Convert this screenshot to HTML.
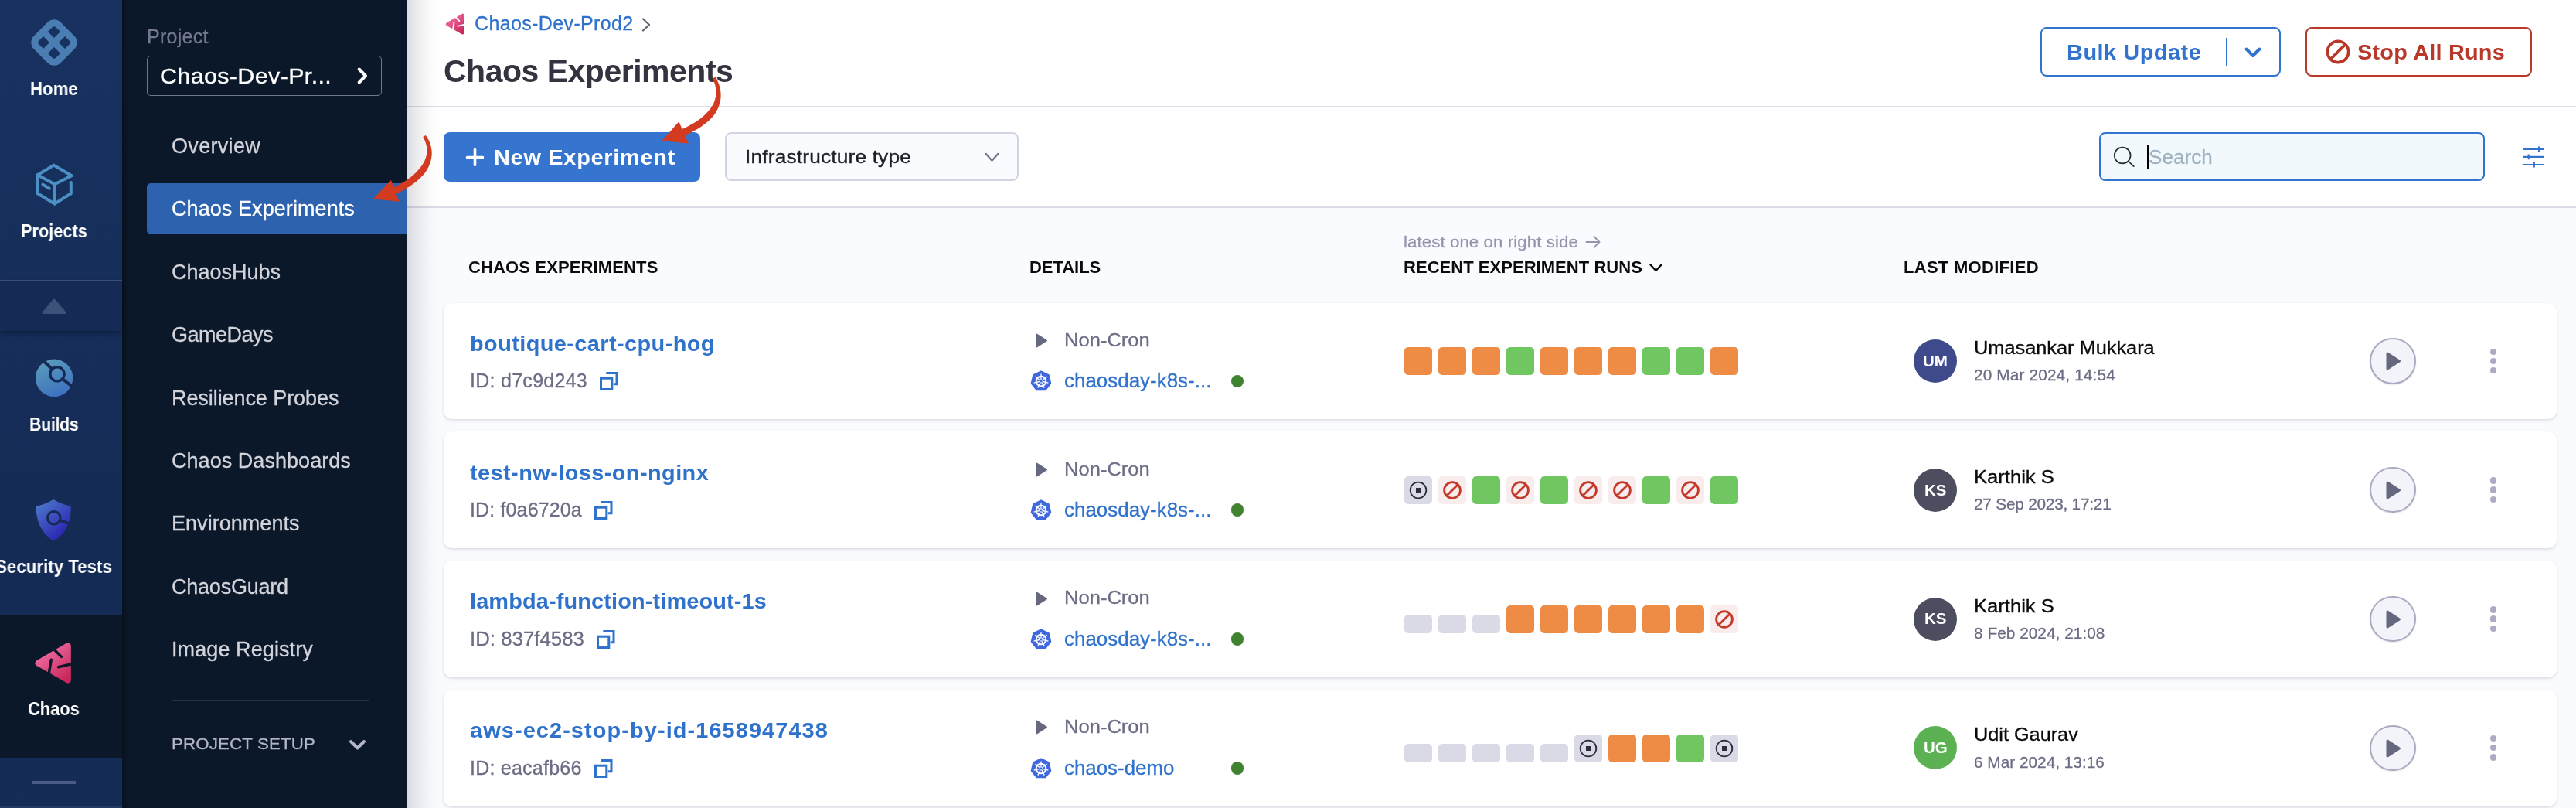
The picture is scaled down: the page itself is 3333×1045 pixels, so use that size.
<!DOCTYPE html>
<html><head><meta charset="utf-8"><title>Chaos Experiments</title>
<style>
html,body{margin:0;padding:0;}
body{width:3333px;height:1045px;overflow:hidden;position:relative;background:#fafbfe;
font-family:"Liberation Sans",sans-serif;}
.t{position:absolute;white-space:nowrap;margin:0;padding:0;will-change:transform;}
.a{position:absolute;}
svg{position:absolute;overflow:visible;}
.card{position:absolute;left:574px;width:2734px;height:150px;background:#fff;border-radius:11px;
box-shadow:0 1px 2px rgba(40,41,61,.08),0 2px 5px rgba(96,97,112,.13);}
.sq{position:absolute;width:36px;height:36px;border-radius:5px;}
</style></head><body>
<div class="a" style="left:526px;top:0;width:2807px;height:268px;background:#fff"></div>
<div class="a" style="left:526px;top:137px;width:2807px;height:2px;background:#dadbe6"></div>
<div class="a" style="left:526px;top:267px;width:2807px;height:2px;background:#dadbe6"></div>
<div class="card" style="top:392px;height:150px"></div>
<div class="t" style="left:607.70px;top:428.70px;font-size:27px;line-height:32px;color:#2f72cc;font-weight:700;letter-spacing:0.392px;transform:scaleX(1.0700);transform-origin:0 50%;">boutique-cart-cpu-hog</div>
<div class="t" style="left:607.70px;top:477.20px;font-size:25px;line-height:30px;color:#6b6d85;letter-spacing:0.277px;-webkit-text-stroke:0.3px #6b6d85;">ID: d7c9d243</div>
<svg style="left:776.2px;top:481.1px" width="24" height="24" viewBox="0 0 24 24" fill="none" stroke="#2f72cc" stroke-width="3"><path d="M8.3 1.5H22v14.3h-4.3"/><rect x="1.5" y="8.2" width="14.3" height="14.3"/></svg>
<svg style="left:1339.5px;top:430.8px" width="16" height="19" viewBox="0 0 16 19"><path d="M1.5 1.5 L14 9.5 L1.5 17.5 Z" fill="#66687f" stroke="#66687f" stroke-width="2" stroke-linejoin="round"/></svg>
<div class="t" style="left:1377.00px;top:424.70px;font-size:24.5px;line-height:29px;color:#6b6d85;letter-spacing:0.000px;transform:scaleX(1.0432);transform-origin:0 50%;-webkit-text-stroke:0.3px #6b6d85;">Non-Cron</div>
<svg style="left:1331.7px;top:478.4px" width="30" height="30" viewBox="-15 -15 30 30"><polygon points="0.00,-12.60 9.85,-7.86 12.28,2.80 5.47,11.35 -5.47,11.35 -12.28,2.80 -9.85,-7.86" fill="#4068de" stroke="#4068de" stroke-width="2" stroke-linejoin="round"/><g stroke="#fff" stroke-width="1.3" fill="none"><circle r="6.3" stroke-width="2"/><line x1="0" y1="0" x2="0.00" y2="-9.60"/><line x1="0" y1="0" x2="7.51" y2="-5.99"/><line x1="0" y1="0" x2="9.36" y2="2.14"/><line x1="0" y1="0" x2="4.17" y2="8.65"/><line x1="0" y1="0" x2="-4.17" y2="8.65"/><line x1="0" y1="0" x2="-9.36" y2="2.14"/><line x1="0" y1="0" x2="-7.51" y2="-5.99"/></g><circle r="1.6" fill="#4068de"/></svg>
<div class="t" style="left:1377.00px;top:477.20px;font-size:25px;line-height:30px;color:#2f72cc;letter-spacing:0.000px;transform:scaleX(1.0378);transform-origin:0 50%;-webkit-text-stroke:0.3px #2f72cc;">chaosday-k8s-...</div>
<div class="a" style="left:1592.7px;top:484.5px;width:16.7px;height:16.7px;border-radius:50%;background:#3f8230"></div>
<div class="sq" style="left:1817.1px;top:449.2px;background:#ee8b45"></div>
<div class="sq" style="left:1861.1px;top:449.2px;background:#ee8b45"></div>
<div class="sq" style="left:1905.1px;top:449.2px;background:#ee8b45"></div>
<div class="sq" style="left:1949.1px;top:449.2px;background:#70c762"></div>
<div class="sq" style="left:1993.1px;top:449.2px;background:#ee8b45"></div>
<div class="sq" style="left:2037.1px;top:449.2px;background:#ee8b45"></div>
<div class="sq" style="left:2081.1px;top:449.2px;background:#ee8b45"></div>
<div class="sq" style="left:2125.1px;top:449.2px;background:#70c762"></div>
<div class="sq" style="left:2169.1px;top:449.2px;background:#70c762"></div>
<div class="sq" style="left:2213.1px;top:449.2px;background:#ee8b45"></div>
<div class="a" style="left:2476px;top:438.8px;width:56px;height:56px;border-radius:50%;background:#3f4a8c"></div>
<div class="t" style="left:2488.06px;top:453.80px;font-size:20.5px;line-height:25px;color:#fff;font-weight:700;letter-spacing:0.000px;">UM</div>
<div class="t" style="left:2553.50px;top:435.00px;font-size:24.5px;line-height:29px;color:#0b0b0d;letter-spacing:0.000px;-webkit-text-stroke:0.35px #0b0b0d;transform:scaleX(1.0339);transform-origin:0 50%;">Umasankar Mukkara</div>
<div class="t" style="left:2553.50px;top:472.40px;font-size:20.8px;line-height:25px;color:#6b6d85;letter-spacing:0.139px;-webkit-text-stroke:0.3px #6b6d85;">20 Mar 2024, 14:54</div>
<div class="a" style="left:3066.4px;top:437.0px;width:55.5px;height:55.5px;border-radius:50%;border:2px solid #a9aac2;background:#f3f3fa;box-shadow:0 1px 2px rgba(40,41,61,.12)"></div>
<svg style="left:3086.6px;top:455.2px" width="20" height="24" viewBox="0 0 20 24"><path d="M2 2 L17.5 12 L2 22 Z" fill="#66687f" stroke="#66687f" stroke-width="3" stroke-linejoin="round"/></svg>
<div class="a" style="left:3221.6px;top:450.5px;width:8.4px;height:8.4px;border-radius:50%;background:#abacc4"></div>
<div class="a" style="left:3221.6px;top:462.6px;width:8.4px;height:8.4px;border-radius:50%;background:#abacc4"></div>
<div class="a" style="left:3221.6px;top:474.8px;width:8.4px;height:8.4px;border-radius:50%;background:#abacc4"></div>
<div class="card" style="top:558px;height:151px"></div>
<div class="t" style="left:607.70px;top:595.53px;font-size:27px;line-height:32px;color:#2f72cc;font-weight:700;letter-spacing:0.403px;transform:scaleX(1.0700);transform-origin:0 50%;">test-nw-loss-on-nginx</div>
<div class="t" style="left:607.70px;top:644.03px;font-size:25px;line-height:30px;color:#6b6d85;letter-spacing:0.141px;-webkit-text-stroke:0.3px #6b6d85;">ID: f0a6720a</div>
<svg style="left:769.2px;top:647.9px" width="24" height="24" viewBox="0 0 24 24" fill="none" stroke="#2f72cc" stroke-width="3"><path d="M8.3 1.5H22v14.3h-4.3"/><rect x="1.5" y="8.2" width="14.3" height="14.3"/></svg>
<svg style="left:1339.5px;top:597.6px" width="16" height="19" viewBox="0 0 16 19"><path d="M1.5 1.5 L14 9.5 L1.5 17.5 Z" fill="#66687f" stroke="#66687f" stroke-width="2" stroke-linejoin="round"/></svg>
<div class="t" style="left:1377.00px;top:591.53px;font-size:24.5px;line-height:29px;color:#6b6d85;letter-spacing:0.000px;transform:scaleX(1.0432);transform-origin:0 50%;-webkit-text-stroke:0.3px #6b6d85;">Non-Cron</div>
<svg style="left:1331.7px;top:645.2px" width="30" height="30" viewBox="-15 -15 30 30"><polygon points="0.00,-12.60 9.85,-7.86 12.28,2.80 5.47,11.35 -5.47,11.35 -12.28,2.80 -9.85,-7.86" fill="#4068de" stroke="#4068de" stroke-width="2" stroke-linejoin="round"/><g stroke="#fff" stroke-width="1.3" fill="none"><circle r="6.3" stroke-width="2"/><line x1="0" y1="0" x2="0.00" y2="-9.60"/><line x1="0" y1="0" x2="7.51" y2="-5.99"/><line x1="0" y1="0" x2="9.36" y2="2.14"/><line x1="0" y1="0" x2="4.17" y2="8.65"/><line x1="0" y1="0" x2="-4.17" y2="8.65"/><line x1="0" y1="0" x2="-9.36" y2="2.14"/><line x1="0" y1="0" x2="-7.51" y2="-5.99"/></g><circle r="1.6" fill="#4068de"/></svg>
<div class="t" style="left:1377.00px;top:644.03px;font-size:25px;line-height:30px;color:#2f72cc;letter-spacing:0.000px;transform:scaleX(1.0378);transform-origin:0 50%;-webkit-text-stroke:0.3px #2f72cc;">chaosday-k8s-...</div>
<div class="a" style="left:1592.7px;top:651.3px;width:16.7px;height:16.7px;border-radius:50%;background:#3f8230"></div>
<div class="sq" style="left:1817.1px;top:616.0px;background:#d9dae5"></div>
<svg style="left:1822.1px;top:621.0px" width="26" height="26" viewBox="-13 -13 26 26"><circle r="10.3" fill="none" stroke="#2b2d3a" stroke-width="1.8"/><rect x="-3" y="-3" width="6" height="6" fill="#2b2d3a"/></svg>
<div class="sq" style="left:1861.1px;top:616.0px;background:#f9ecec"></div>
<svg style="left:1866.1px;top:621.0px" width="26" height="26" viewBox="-13 -13 26 26"><circle r="10.4" fill="none" stroke="#c5392b" stroke-width="2.8"/><line x1="-7.3" y1="7.3" x2="7.3" y2="-7.3" stroke="#c5392b" stroke-width="2.8"/></svg>
<div class="sq" style="left:1905.1px;top:616.0px;background:#70c762"></div>
<div class="sq" style="left:1949.1px;top:616.0px;background:#f9ecec"></div>
<svg style="left:1954.1px;top:621.0px" width="26" height="26" viewBox="-13 -13 26 26"><circle r="10.4" fill="none" stroke="#c5392b" stroke-width="2.8"/><line x1="-7.3" y1="7.3" x2="7.3" y2="-7.3" stroke="#c5392b" stroke-width="2.8"/></svg>
<div class="sq" style="left:1993.1px;top:616.0px;background:#70c762"></div>
<div class="sq" style="left:2037.1px;top:616.0px;background:#f9ecec"></div>
<svg style="left:2042.1px;top:621.0px" width="26" height="26" viewBox="-13 -13 26 26"><circle r="10.4" fill="none" stroke="#c5392b" stroke-width="2.8"/><line x1="-7.3" y1="7.3" x2="7.3" y2="-7.3" stroke="#c5392b" stroke-width="2.8"/></svg>
<div class="sq" style="left:2081.1px;top:616.0px;background:#f9ecec"></div>
<svg style="left:2086.1px;top:621.0px" width="26" height="26" viewBox="-13 -13 26 26"><circle r="10.4" fill="none" stroke="#c5392b" stroke-width="2.8"/><line x1="-7.3" y1="7.3" x2="7.3" y2="-7.3" stroke="#c5392b" stroke-width="2.8"/></svg>
<div class="sq" style="left:2125.1px;top:616.0px;background:#70c762"></div>
<div class="sq" style="left:2169.1px;top:616.0px;background:#f9ecec"></div>
<svg style="left:2174.1px;top:621.0px" width="26" height="26" viewBox="-13 -13 26 26"><circle r="10.4" fill="none" stroke="#c5392b" stroke-width="2.8"/><line x1="-7.3" y1="7.3" x2="7.3" y2="-7.3" stroke="#c5392b" stroke-width="2.8"/></svg>
<div class="sq" style="left:2213.1px;top:616.0px;background:#70c762"></div>
<div class="a" style="left:2476px;top:605.6px;width:56px;height:56px;border-radius:50%;background:#4c4d5f"></div>
<div class="t" style="left:2489.75px;top:620.63px;font-size:20.5px;line-height:25px;color:#fff;font-weight:700;letter-spacing:0.000px;">KS</div>
<div class="t" style="left:2553.50px;top:601.83px;font-size:24.5px;line-height:29px;color:#0b0b0d;letter-spacing:0.000px;-webkit-text-stroke:0.35px #0b0b0d;transform:scaleX(1.0448);transform-origin:0 50%;">Karthik S</div>
<div class="t" style="left:2553.50px;top:639.23px;font-size:20.8px;line-height:25px;color:#6b6d85;letter-spacing:-0.223px;-webkit-text-stroke:0.3px #6b6d85;">27 Sep 2023, 17:21</div>
<div class="a" style="left:3066.4px;top:603.8px;width:55.5px;height:55.5px;border-radius:50%;border:2px solid #a9aac2;background:#f3f3fa;box-shadow:0 1px 2px rgba(40,41,61,.12)"></div>
<svg style="left:3086.6px;top:622.0px" width="20" height="24" viewBox="0 0 20 24"><path d="M2 2 L17.5 12 L2 22 Z" fill="#66687f" stroke="#66687f" stroke-width="3" stroke-linejoin="round"/></svg>
<div class="a" style="left:3221.6px;top:617.3px;width:8.4px;height:8.4px;border-radius:50%;background:#abacc4"></div>
<div class="a" style="left:3221.6px;top:629.4px;width:8.4px;height:8.4px;border-radius:50%;background:#abacc4"></div>
<div class="a" style="left:3221.6px;top:641.6px;width:8.4px;height:8.4px;border-radius:50%;background:#abacc4"></div>
<div class="card" style="top:725px;height:151px"></div>
<div class="t" style="left:607.70px;top:762.36px;font-size:27px;line-height:32px;color:#2f72cc;font-weight:700;letter-spacing:0.129px;transform:scaleX(1.0700);transform-origin:0 50%;">lambda-function-timeout-1s</div>
<div class="t" style="left:607.70px;top:810.86px;font-size:25px;line-height:30px;color:#6b6d85;letter-spacing:0.000px;transform:scaleX(1.0327);transform-origin:0 50%;-webkit-text-stroke:0.3px #6b6d85;">ID: 837f4583</div>
<svg style="left:772.2px;top:814.8px" width="24" height="24" viewBox="0 0 24 24" fill="none" stroke="#2f72cc" stroke-width="3"><path d="M8.3 1.5H22v14.3h-4.3"/><rect x="1.5" y="8.2" width="14.3" height="14.3"/></svg>
<svg style="left:1339.5px;top:764.5px" width="16" height="19" viewBox="0 0 16 19"><path d="M1.5 1.5 L14 9.5 L1.5 17.5 Z" fill="#66687f" stroke="#66687f" stroke-width="2" stroke-linejoin="round"/></svg>
<div class="t" style="left:1377.00px;top:758.36px;font-size:24.5px;line-height:29px;color:#6b6d85;letter-spacing:0.000px;transform:scaleX(1.0432);transform-origin:0 50%;-webkit-text-stroke:0.3px #6b6d85;">Non-Cron</div>
<svg style="left:1331.7px;top:812.1px" width="30" height="30" viewBox="-15 -15 30 30"><polygon points="0.00,-12.60 9.85,-7.86 12.28,2.80 5.47,11.35 -5.47,11.35 -12.28,2.80 -9.85,-7.86" fill="#4068de" stroke="#4068de" stroke-width="2" stroke-linejoin="round"/><g stroke="#fff" stroke-width="1.3" fill="none"><circle r="6.3" stroke-width="2"/><line x1="0" y1="0" x2="0.00" y2="-9.60"/><line x1="0" y1="0" x2="7.51" y2="-5.99"/><line x1="0" y1="0" x2="9.36" y2="2.14"/><line x1="0" y1="0" x2="4.17" y2="8.65"/><line x1="0" y1="0" x2="-4.17" y2="8.65"/><line x1="0" y1="0" x2="-9.36" y2="2.14"/><line x1="0" y1="0" x2="-7.51" y2="-5.99"/></g><circle r="1.6" fill="#4068de"/></svg>
<div class="t" style="left:1377.00px;top:810.86px;font-size:25px;line-height:30px;color:#2f72cc;letter-spacing:0.000px;transform:scaleX(1.0378);transform-origin:0 50%;-webkit-text-stroke:0.3px #2f72cc;">chaosday-k8s-...</div>
<div class="a" style="left:1592.7px;top:818.2px;width:16.7px;height:16.7px;border-radius:50%;background:#3f8230"></div>
<div class="sq" style="left:1817.1px;top:794.9px;height:24px;background:#d9dae5"></div>
<div class="sq" style="left:1861.1px;top:794.9px;height:24px;background:#d9dae5"></div>
<div class="sq" style="left:1905.1px;top:794.9px;height:24px;background:#d9dae5"></div>
<div class="sq" style="left:1949.1px;top:782.9px;background:#ee8b45"></div>
<div class="sq" style="left:1993.1px;top:782.9px;background:#ee8b45"></div>
<div class="sq" style="left:2037.1px;top:782.9px;background:#ee8b45"></div>
<div class="sq" style="left:2081.1px;top:782.9px;background:#ee8b45"></div>
<div class="sq" style="left:2125.1px;top:782.9px;background:#ee8b45"></div>
<div class="sq" style="left:2169.1px;top:782.9px;background:#ee8b45"></div>
<div class="sq" style="left:2213.1px;top:782.9px;background:#f9ecec"></div>
<svg style="left:2218.1px;top:787.9px" width="26" height="26" viewBox="-13 -13 26 26"><circle r="10.4" fill="none" stroke="#c5392b" stroke-width="2.8"/><line x1="-7.3" y1="7.3" x2="7.3" y2="-7.3" stroke="#c5392b" stroke-width="2.8"/></svg>
<div class="a" style="left:2476px;top:772.5px;width:56px;height:56px;border-radius:50%;background:#4c4d5f"></div>
<div class="t" style="left:2489.75px;top:787.46px;font-size:20.5px;line-height:25px;color:#fff;font-weight:700;letter-spacing:0.000px;">KS</div>
<div class="t" style="left:2553.50px;top:768.66px;font-size:24.5px;line-height:29px;color:#0b0b0d;letter-spacing:0.000px;-webkit-text-stroke:0.35px #0b0b0d;transform:scaleX(1.0448);transform-origin:0 50%;">Karthik S</div>
<div class="t" style="left:2553.50px;top:806.06px;font-size:20.8px;line-height:25px;color:#6b6d85;letter-spacing:0.031px;-webkit-text-stroke:0.3px #6b6d85;">8 Feb 2024, 21:08</div>
<div class="a" style="left:3066.4px;top:770.7px;width:55.5px;height:55.5px;border-radius:50%;border:2px solid #a9aac2;background:#f3f3fa;box-shadow:0 1px 2px rgba(40,41,61,.12)"></div>
<svg style="left:3086.6px;top:788.9px" width="20" height="24" viewBox="0 0 20 24"><path d="M2 2 L17.5 12 L2 22 Z" fill="#66687f" stroke="#66687f" stroke-width="3" stroke-linejoin="round"/></svg>
<div class="a" style="left:3221.6px;top:784.2px;width:8.4px;height:8.4px;border-radius:50%;background:#abacc4"></div>
<div class="a" style="left:3221.6px;top:796.3px;width:8.4px;height:8.4px;border-radius:50%;background:#abacc4"></div>
<div class="a" style="left:3221.6px;top:808.5px;width:8.4px;height:8.4px;border-radius:50%;background:#abacc4"></div>
<div class="card" style="top:892px;height:151px"></div>
<div class="t" style="left:607.70px;top:929.19px;font-size:27px;line-height:32px;color:#2f72cc;font-weight:700;letter-spacing:1.031px;transform:scaleX(1.0700);transform-origin:0 50%;">aws-ec2-stop-by-id-1658947438</div>
<div class="t" style="left:607.70px;top:977.69px;font-size:25px;line-height:30px;color:#6b6d85;letter-spacing:0.232px;-webkit-text-stroke:0.3px #6b6d85;">ID: eacafb66</div>
<svg style="left:768.7px;top:981.6px" width="24" height="24" viewBox="0 0 24 24" fill="none" stroke="#2f72cc" stroke-width="3"><path d="M8.3 1.5H22v14.3h-4.3"/><rect x="1.5" y="8.2" width="14.3" height="14.3"/></svg>
<svg style="left:1339.5px;top:931.3px" width="16" height="19" viewBox="0 0 16 19"><path d="M1.5 1.5 L14 9.5 L1.5 17.5 Z" fill="#66687f" stroke="#66687f" stroke-width="2" stroke-linejoin="round"/></svg>
<div class="t" style="left:1377.00px;top:925.19px;font-size:24.5px;line-height:29px;color:#6b6d85;letter-spacing:0.000px;transform:scaleX(1.0432);transform-origin:0 50%;-webkit-text-stroke:0.3px #6b6d85;">Non-Cron</div>
<svg style="left:1331.7px;top:978.9px" width="30" height="30" viewBox="-15 -15 30 30"><polygon points="0.00,-12.60 9.85,-7.86 12.28,2.80 5.47,11.35 -5.47,11.35 -12.28,2.80 -9.85,-7.86" fill="#4068de" stroke="#4068de" stroke-width="2" stroke-linejoin="round"/><g stroke="#fff" stroke-width="1.3" fill="none"><circle r="6.3" stroke-width="2"/><line x1="0" y1="0" x2="0.00" y2="-9.60"/><line x1="0" y1="0" x2="7.51" y2="-5.99"/><line x1="0" y1="0" x2="9.36" y2="2.14"/><line x1="0" y1="0" x2="4.17" y2="8.65"/><line x1="0" y1="0" x2="-4.17" y2="8.65"/><line x1="0" y1="0" x2="-9.36" y2="2.14"/><line x1="0" y1="0" x2="-7.51" y2="-5.99"/></g><circle r="1.6" fill="#4068de"/></svg>
<div class="t" style="left:1377.00px;top:977.69px;font-size:25px;line-height:30px;color:#2f72cc;letter-spacing:0.000px;transform:scaleX(1.0347);transform-origin:0 50%;-webkit-text-stroke:0.3px #2f72cc;">chaos-demo</div>
<div class="a" style="left:1592.7px;top:985.0px;width:16.7px;height:16.7px;border-radius:50%;background:#3f8230"></div>
<div class="sq" style="left:1817.1px;top:961.7px;height:24px;background:#d9dae5"></div>
<div class="sq" style="left:1861.1px;top:961.7px;height:24px;background:#d9dae5"></div>
<div class="sq" style="left:1905.1px;top:961.7px;height:24px;background:#d9dae5"></div>
<div class="sq" style="left:1949.1px;top:961.7px;height:24px;background:#d9dae5"></div>
<div class="sq" style="left:1993.1px;top:961.7px;height:24px;background:#d9dae5"></div>
<div class="sq" style="left:2037.1px;top:949.7px;background:#d9dae5"></div>
<svg style="left:2042.1px;top:954.7px" width="26" height="26" viewBox="-13 -13 26 26"><circle r="10.3" fill="none" stroke="#2b2d3a" stroke-width="1.8"/><rect x="-3" y="-3" width="6" height="6" fill="#2b2d3a"/></svg>
<div class="sq" style="left:2081.1px;top:949.7px;background:#ee8b45"></div>
<div class="sq" style="left:2125.1px;top:949.7px;background:#ee8b45"></div>
<div class="sq" style="left:2169.1px;top:949.7px;background:#70c762"></div>
<div class="sq" style="left:2213.1px;top:949.7px;background:#d9dae5"></div>
<svg style="left:2218.1px;top:954.7px" width="26" height="26" viewBox="-13 -13 26 26"><circle r="10.3" fill="none" stroke="#2b2d3a" stroke-width="1.8"/><rect x="-3" y="-3" width="6" height="6" fill="#2b2d3a"/></svg>
<div class="a" style="left:2476px;top:939.3px;width:56px;height:56px;border-radius:50%;background:#5cb252"></div>
<div class="t" style="left:2488.62px;top:954.29px;font-size:20.5px;line-height:25px;color:#fff;font-weight:700;letter-spacing:0.000px;">UG</div>
<div class="t" style="left:2553.50px;top:935.49px;font-size:24.5px;line-height:29px;color:#0b0b0d;letter-spacing:0.000px;-webkit-text-stroke:0.35px #0b0b0d;transform:scaleX(1.0313);transform-origin:0 50%;">Udit Gaurav</div>
<div class="t" style="left:2553.50px;top:972.89px;font-size:20.8px;line-height:25px;color:#6b6d85;letter-spacing:0.001px;-webkit-text-stroke:0.3px #6b6d85;">6 Mar 2024, 13:16</div>
<div class="a" style="left:3066.4px;top:937.5px;width:55.5px;height:55.5px;border-radius:50%;border:2px solid #a9aac2;background:#f3f3fa;box-shadow:0 1px 2px rgba(40,41,61,.12)"></div>
<svg style="left:3086.6px;top:955.7px" width="20" height="24" viewBox="0 0 20 24"><path d="M2 2 L17.5 12 L2 22 Z" fill="#66687f" stroke="#66687f" stroke-width="3" stroke-linejoin="round"/></svg>
<div class="a" style="left:3221.6px;top:951.0px;width:8.4px;height:8.4px;border-radius:50%;background:#abacc4"></div>
<div class="a" style="left:3221.6px;top:963.1px;width:8.4px;height:8.4px;border-radius:50%;background:#abacc4"></div>
<div class="a" style="left:3221.6px;top:975.3px;width:8.4px;height:8.4px;border-radius:50%;background:#abacc4"></div>
<div class="t" style="left:606.00px;top:333.00px;font-size:22px;line-height:26px;color:#0b0b0d;font-weight:700;letter-spacing:0.130px;">CHAOS EXPERIMENTS</div>
<div class="t" style="left:1332.20px;top:333.10px;font-size:22px;line-height:26px;color:#0b0b0d;font-weight:700;letter-spacing:-0.035px;">DETAILS</div>
<div class="t" style="left:1816.30px;top:300.00px;font-size:20.8px;line-height:25px;color:#9495ad;letter-spacing:0.077px;transform:scaleX(1.0700);transform-origin:0 50%;-webkit-text-stroke:0.3px #9495ad;">latest one on right side</div>
<svg style="left:2051px;top:304px" width="20" height="18" viewBox="0 0 20 18" fill="none" stroke="#9495ad" stroke-width="2" stroke-linecap="round" stroke-linejoin="round"><path d="M1.5 9H18.5M11.5 2L18.5 9L11.5 16"/></svg>
<div class="t" style="left:1816.30px;top:333.00px;font-size:22px;line-height:26px;color:#0b0b0d;font-weight:700;letter-spacing:0.038px;">RECENT EXPERIMENT RUNS</div>
<svg style="left:2134px;top:341px" width="17" height="11" viewBox="0 0 17 11" fill="none" stroke="#0b0b0d" stroke-width="2.5" stroke-linecap="round" stroke-linejoin="round"><path d="M1.5 1.5L8.5 9L15.5 1.5"/></svg>
<div class="t" style="left:2462.60px;top:333.00px;font-size:22px;line-height:26px;color:#0b0b0d;font-weight:700;letter-spacing:0.287px;">LAST MODIFIED</div>
<svg style="left:575.2px;top:15.8px" width="27" height="30" viewBox="-2 -2 54 60"><defs><linearGradient id="cg1" x1="0.2" y1="0" x2="0.9" y2="1"><stop offset="0" stop-color="#f070a6"/><stop offset="1" stop-color="#c8285b"/></linearGradient></defs><path d="M5.6 28.5 L45.25 5.4 L45.25 51 Z" fill="url(#cg1)" stroke="url(#cg1)" stroke-width="8" stroke-linejoin="round"/><g stroke="#fff" stroke-width="3.6" stroke-linecap="round" fill="none"><path d="M24 7.5 L36.5 20"/><path d="M19.8 42.5 L23 24"/><path d="M50.5 29.5 L32.5 33.8"/></g></svg>
<div class="t" style="left:613.60px;top:15.40px;font-size:25px;line-height:30px;color:#2f72cc;letter-spacing:0.370px;-webkit-text-stroke:0.3px #2f72cc;">Chaos-Dev-Prod2</div>
<svg style="left:830px;top:22.5px" width="12" height="18" viewBox="0 0 12 18" fill="none" stroke="#5d5f73" stroke-width="2.2" stroke-linecap="round" stroke-linejoin="round"><path d="M2 1.5L10 9L2 16.5"/></svg>
<div class="t" style="left:574.30px;top:68.40px;font-size:41px;line-height:49px;color:#33343f;font-weight:700;letter-spacing:-0.496px;">Chaos Experiments</div>
<div class="a" style="left:2640px;top:35px;width:307px;height:59.5px;border:2px solid #3173cf;border-radius:8px;background:#fff"></div>
<div class="t" style="left:2674.00px;top:51.80px;font-size:27px;line-height:32px;color:#3173cf;font-weight:700;letter-spacing:0.488px;transform:scaleX(1.0700);transform-origin:0 50%;">Bulk Update</div>
<div class="a" style="left:2880px;top:49px;width:2px;height:36px;background:#3173cf"></div>
<svg style="left:2903.4px;top:59.5px" width="24" height="16" viewBox="0 0 24 16" fill="none" stroke="#3173cf" stroke-width="4" stroke-linecap="round" stroke-linejoin="round"><path d="M3.5 3.5L12 12L20.5 3.5"/></svg>
<div class="a" style="left:2983.2px;top:35px;width:288.4px;height:59.5px;border:2px solid #b8382a;border-radius:8px;background:#fff"></div>
<svg style="left:3007.8px;top:49.5px" width="34" height="34" viewBox="-17 -17 34 34" fill="none" stroke="#b8382a" stroke-width="3.7"><circle r="13.6"/><path d="M-9.6 9.6L9.6 -9.6"/></svg>
<div class="t" style="left:3049.90px;top:51.80px;font-size:27px;line-height:32px;color:#b8382a;font-weight:700;letter-spacing:0.190px;transform:scaleX(1.0700);transform-origin:0 50%;">Stop All Runs</div>
<div class="a" style="left:574px;top:171px;width:332px;height:63.5px;border-radius:8px;background:#3575d0"></div>
<svg style="left:601.5px;top:190.5px" width="25" height="25" viewBox="0 0 25 25" fill="none" stroke="#fff" stroke-width="3.6" stroke-linecap="round"><path d="M12.5 2.5V22.5M2.5 12.5H22.5"/></svg>
<div class="t" style="left:638.50px;top:187.50px;font-size:27px;line-height:32px;color:#fff;font-weight:700;letter-spacing:0.686px;transform:scaleX(1.0700);transform-origin:0 50%;">New Experiment</div>
<div class="a" style="left:938px;top:171px;width:376px;height:59.4px;border:2px solid #d3d4e2;border-radius:8px;background:#fafbfe"></div>
<div class="t" style="left:964.40px;top:188.20px;font-size:24.5px;line-height:29px;color:#1e1f26;letter-spacing:0.182px;-webkit-text-stroke:0.4px #1e1f26;transform:scaleX(1.0700);transform-origin:0 50%;">Infrastructure type</div>
<svg style="left:1274.4px;top:197px" width="19" height="13" viewBox="0 0 19 13" fill="none" stroke="#6f7187" stroke-width="2.1" stroke-linecap="round" stroke-linejoin="round"><path d="M1.5 1.8L9.5 10.8L17.5 1.8"/></svg>
<div class="a" style="left:2716px;top:171px;width:495.4px;height:59.4px;border:2px solid #3173cf;border-radius:8px;background:#f1f9fd"></div>
<svg style="left:2733px;top:188.4px" width="32" height="32" viewBox="0 0 32 32" fill="none" stroke="#2a2b35" stroke-width="1.7" stroke-linecap="round"><circle cx="13.2" cy="13" r="10.4"/><path d="M20.8 20.6L27.8 27.2"/></svg>
<div class="a" style="left:2778.2px;top:187.8px;width:2.2px;height:31px;background:#000"></div>
<div class="t" style="left:2779.80px;top:188.30px;font-size:26px;line-height:31px;color:#a0b2bf;letter-spacing:0.076px;-webkit-text-stroke:0.3px #a0b2bf;">Search</div>
<svg style="left:3262px;top:186px" width="32" height="34" viewBox="0 0 32 34" fill="none" stroke="#3173cf" stroke-width="2.1" stroke-linecap="butt"><path d="M2.2 6.9H29.6M2.2 16.9H29.6M2.2 27H29.6M23 3.5V10.3M9.7 13.5V20.3M16.8 23.6V30.4"/></svg>
<div class="a" style="left:526px;top:0;width:44px;height:1045px;background:linear-gradient(to right,rgba(25,28,55,.15),rgba(25,28,55,.075) 35%,rgba(25,28,55,.02) 70%,rgba(25,28,55,0))"></div>
<div class="a" style="left:158px;top:0;width:368px;height:1045px;background:#0b1829"></div>
<div class="t" style="left:189.60px;top:32.00px;font-size:25px;line-height:30px;color:#747891;letter-spacing:0.258px;-webkit-text-stroke:0.3px #747891;">Project</div>
<div class="a" style="left:190px;top:72px;width:301.6px;height:49.6px;border:1.2px solid #71758a;border-radius:5px"></div>
<div class="t" style="left:207.00px;top:80.90px;font-size:28.5px;line-height:34px;color:#fff;letter-spacing:0.322px;-webkit-text-stroke:0.3px #fff;transform:scaleX(1.0700);transform-origin:0 50%;">Chaos-Dev-Pr...</div>
<svg style="left:460px;top:86px" width="18" height="24" viewBox="0 0 18 24" fill="none" stroke="#fff" stroke-width="4" stroke-linecap="round" stroke-linejoin="round"><path d="M4.7 3.5L13 12L4.7 20.5"/></svg>
<div class="a" style="left:190px;top:237px;width:336px;height:66px;background:#2c62ae;border-radius:5px 0 0 5px"></div>
<div class="t" style="left:221.50px;top:172.60px;font-size:27px;line-height:32px;color:#d3d4db;letter-spacing:0.316px;-webkit-text-stroke:0.3px #d3d4db;">Overview</div>
<div class="t" style="left:221.50px;top:253.90px;font-size:27px;line-height:32px;color:#fff;letter-spacing:0.077px;-webkit-text-stroke:0.3px #fff;">Chaos Experiments</div>
<div class="t" style="left:221.50px;top:336.00px;font-size:27px;line-height:32px;color:#d3d4db;letter-spacing:0.003px;-webkit-text-stroke:0.3px #d3d4db;">ChaosHubs</div>
<div class="t" style="left:221.50px;top:417.30px;font-size:27px;line-height:32px;color:#d3d4db;letter-spacing:-0.514px;-webkit-text-stroke:0.3px #d3d4db;">GameDays</div>
<div class="t" style="left:221.50px;top:499.20px;font-size:27px;line-height:32px;color:#d3d4db;letter-spacing:-0.076px;-webkit-text-stroke:0.3px #d3d4db;">Resilience Probes</div>
<div class="t" style="left:221.50px;top:579.80px;font-size:27px;line-height:32px;color:#d3d4db;letter-spacing:0.045px;-webkit-text-stroke:0.3px #d3d4db;">Chaos Dashboards</div>
<div class="t" style="left:221.50px;top:661.30px;font-size:27px;line-height:32px;color:#d3d4db;letter-spacing:0.036px;-webkit-text-stroke:0.3px #d3d4db;">Environments</div>
<div class="t" style="left:221.50px;top:743.00px;font-size:27px;line-height:32px;color:#d3d4db;letter-spacing:-0.221px;-webkit-text-stroke:0.3px #d3d4db;">ChaosGuard</div>
<div class="t" style="left:221.50px;top:824.20px;font-size:27px;line-height:32px;color:#d3d4db;letter-spacing:0.094px;-webkit-text-stroke:0.3px #d3d4db;">Image Registry</div>
<div class="a" style="left:222px;top:905.3px;width:256px;height:1.6px;background:#253144"></div>
<div class="t" style="left:222.00px;top:948.80px;font-size:20.8px;line-height:25px;color:#b4b5c6;letter-spacing:0.153px;transform:scaleX(1.0700);transform-origin:0 50%;-webkit-text-stroke:0.3px #b4b5c6;">PROJECT SETUP</div>
<svg style="left:449.5px;top:954.5px" width="25" height="17" viewBox="0 0 25 17" fill="none" stroke="#b4b5c6" stroke-width="4" stroke-linecap="round" stroke-linejoin="round"><path d="M4 4L12.5 12.5L21 4"/></svg>
<div class="a" style="left:158px;top:0;width:8px;height:1045px;background:linear-gradient(to right,rgba(0,0,0,.28),rgba(0,0,0,0))"></div>
<div class="a" style="left:0;top:0;width:158px;height:1045px;background:linear-gradient(to bottom,#18315f 0%,#162e5a 38%,#142b55 68%,#152c56 100%)"></div>
<div class="a" style="left:0;top:363px;width:158px;height:65px;background:#152b55;box-shadow:0 3px 6px rgba(0,0,0,.35)"></div>
<div class="a" style="left:0;top:362px;width:158px;height:1.6px;background:#3d4f76"></div>
<svg style="left:53px;top:385px" width="34" height="23" viewBox="0 0 34 23"><path d="M17 3L31 19.5H3Z" fill="#3e5179" stroke="#3e5179" stroke-width="3" stroke-linejoin="round"/></svg>
<div class="a" style="left:0;top:795px;width:158px;height:184.5px;background:#0b1829"></div>
<div class="a" style="left:42px;top:1010px;width:56px;height:4px;background:#4a5c85"></div>
<div class="t" style="left:38.80px;top:101.00px;font-size:23px;line-height:28px;color:#fff;font-weight:700;letter-spacing:0.000px;transform:scaleX(0.9665);transform-origin:0 50%;">Home</div>
<div class="t" style="left:26.80px;top:285.00px;font-size:23px;line-height:28px;color:#fff;font-weight:700;letter-spacing:0.000px;transform:scaleX(0.9456);transform-origin:0 50%;">Projects</div>
<div class="t" style="left:37.80px;top:535.00px;font-size:23px;line-height:28px;color:#fff;font-weight:700;letter-spacing:-0.333px;transform:scaleX(0.9300);transform-origin:0 50%;">Builds</div>
<div class="t" style="left:-5.70px;top:719.00px;font-size:23px;line-height:28px;color:#fff;font-weight:700;letter-spacing:0.000px;transform:scaleX(0.9699);transform-origin:0 50%;">Security Tests</div>
<div class="t" style="left:36.30px;top:903.40px;font-size:23px;line-height:28px;color:#fff;font-weight:700;letter-spacing:0.000px;transform:scaleX(0.9507);transform-origin:0 50%;">Chaos</div>
<svg style="left:39.8px;top:24.8px" width="60" height="60" viewBox="-30 -30 60 60"><g transform="rotate(45)"><path fill="#4a7db1" fill-rule="evenodd" d="M-12.5 -24.5H12.5A12 12 0 0 1 24.5 -12.5V12.5A12 12 0 0 1 12.5 24.5H-12.5A12 12 0 0 1 -24.5 12.5V-12.5A12 12 0 0 1 -12.5 -24.5ZM-12 -15.6H-4.2V-4.2H-15.6V-12A3.6 3.6 0 0 1 -12 -15.6Z M4.2 -15.6H12A3.6 3.6 0 0 1 15.6 -12V-4.2H4.2ZM-15.6 4.2H-4.2V15.6H-12A3.6 3.6 0 0 1 -15.6 12Z M4.2 4.2H15.6V12A3.6 3.6 0 0 1 12 15.6H4.2Z"/></g></svg>
<svg style="left:0;top:0" width="158" height="300" viewBox="0 0 158 300" fill="none" stroke="#4b8fc4" stroke-width="4" stroke-linejoin="round" stroke-linecap="round"><path d="M69.6 213.6L48.6 226.3L70.7 238.2L92.7 227.3Z"/><path d="M48.6 226.3V250.2L70.7 263.6L91.8 250.2V236"/><path d="M70.7 238.2V263.6"/><path d="M55.3 238.6L63.8 243.8"/></svg>
<svg style="left:40px;top:459px" width="60" height="60" viewBox="-30 -30 60 60"><defs><linearGradient id="bg1" x1="0.3" y1="0" x2="0.75" y2="1"><stop offset="0" stop-color="#5a9bbb"/><stop offset="1" stop-color="#3b6fc0"/></linearGradient></defs><circle cx="0.1" cy="-0.2" r="24.2" fill="url(#bg1)"/><g stroke="#142a54" fill="none"><path d="M-13.5 -22L-2.5 -11.5M10.5 0.8L24 11.5" stroke-width="4"/><circle cx="4" cy="-5.2" r="9.1" stroke-width="3.4"/></g></svg>
<svg style="left:40px;top:640px" width="60" height="66" viewBox="40 640 60 66"><defs><linearGradient id="sg1" x1="0.15" y1="0.05" x2="0.8" y2="0.95"><stop offset="0" stop-color="#4a74ca"/><stop offset="1" stop-color="#2a1fb0"/></linearGradient></defs><path d="M69.2 647Q80 653.5 90.9 655.2Q91.5 668 86.5 680Q81 692 69.5 699Q58 692 52.5 680Q47 668 47.6 655.2Q58.5 653.5 69.2 647Z" fill="url(#sg1)" stroke="url(#sg1)" stroke-width="1.5" stroke-linejoin="round"/><g stroke="#152b55" fill="none"><circle cx="69.8" cy="669.8" r="8.3" stroke-width="3"/><path d="M78 673L89.5 677.5" stroke-width="3.6"/></g></svg>
<svg style="left:42.4px;top:827.8px" width="52.5" height="58.3" viewBox="-2 -2 54 60"><defs><linearGradient id="cg2" x1="0.2" y1="0" x2="0.9" y2="1"><stop offset="0" stop-color="#f070a6"/><stop offset="1" stop-color="#c8285b"/></linearGradient></defs><path d="M5.6 28.5 L45.25 5.4 L45.25 51 Z" fill="url(#cg2)" stroke="url(#cg2)" stroke-width="8" stroke-linejoin="round"/><g stroke="#0b1829" stroke-width="3.6" stroke-linecap="round" fill="none"><path d="M24 7.5 L36.5 20"/><path d="M19.8 42.5 L23 24"/><path d="M50.5 29.5 L32.5 33.8"/></g></svg>
<svg style="left:0;top:0" width="1000" height="300" viewBox="0 0 1000 300" fill="#d23b1f"><polygon points="922.2,101.4 923.0,103.2 923.7,105.1 924.3,106.9 924.9,108.7 925.3,110.5 925.7,112.3 926.0,114.1 926.2,115.8 926.4,117.6 926.4,119.4 926.4,121.1 926.2,122.8 926.0,124.5 925.7,126.2 925.3,127.9 924.8,129.6 924.2,131.2 923.6,132.9 922.8,134.5 921.9,136.2 920.9,137.8 919.9,139.4 918.7,141.0 917.4,142.6 916.0,144.2 914.6,145.8 913.0,147.4 911.3,149.1 909.5,150.7 907.5,152.3 905.5,153.9 903.2,155.5 900.9,157.1 898.4,158.7 895.7,160.3 892.9,161.8 890.0,163.4 886.9,164.9 883.6,166.4 880.3,167.9 883.7,176.1 887.3,174.6 890.8,173.0 894.0,171.4 897.2,169.8 900.2,168.1 903.1,166.4 905.8,164.7 908.4,162.9 910.8,161.1 913.2,159.3 915.4,157.5 917.4,155.7 919.4,153.8 921.2,151.9 922.9,149.9 924.4,147.9 925.8,145.9 927.0,143.8 928.1,141.8 929.1,139.7 929.9,137.6 930.7,135.6 931.3,133.5 931.8,131.4 932.2,129.3 932.4,127.2 932.6,125.2 932.6,123.1 932.6,121.1 932.4,119.0 932.1,117.0 931.8,115.0 931.3,113.0 930.8,111.0 930.1,109.1 929.4,107.1 928.6,105.2 927.8,103.3 926.8,101.5 925.8,99.6"/><polygon points="856.6,182 878.4,157.2 890.8,185.7"/><polygon points="547.3,177.1 548.2,178.7 549.1,180.4 549.8,182.0 550.4,183.7 551.0,185.4 551.4,187.0 551.8,188.7 552.1,190.4 552.3,192.0 552.4,193.7 552.4,195.3 552.3,197.0 552.1,198.7 551.8,200.3 551.5,201.9 551.0,203.6 550.4,205.2 549.8,206.9 549.1,208.5 548.2,210.1 547.3,211.8 546.2,213.4 545.1,215.0 543.8,216.7 542.4,218.3 541.0,220.0 539.5,221.7 537.8,223.4 536.1,225.0 534.2,226.7 532.2,228.4 530.0,230.1 527.7,231.7 525.3,233.4 522.8,235.0 520.1,236.6 517.3,238.2 514.4,239.8 511.3,241.4 508.1,242.9 511.9,251.1 515.3,249.4 518.6,247.8 521.7,246.1 524.7,244.4 527.6,242.6 530.3,240.9 532.9,239.1 535.4,237.3 537.8,235.4 540.0,233.6 542.2,231.7 544.2,229.8 546.1,227.8 547.8,225.9 549.5,223.9 550.9,221.9 552.2,219.8 553.4,217.8 554.5,215.7 555.4,213.6 556.2,211.5 556.9,209.4 557.5,207.4 558.0,205.3 558.3,203.2 558.6,201.2 558.7,199.2 558.7,197.1 558.6,195.1 558.3,193.2 558.0,191.2 557.6,189.3 557.0,187.4 556.4,185.5 555.7,183.6 554.9,181.8 553.9,180.0 552.9,178.3 551.8,176.6 550.7,174.9"/><polygon points="482.9,257.5 505.9,232.7 516.5,260.7"/></svg>
<div class="a" style="left:0;top:1043px;width:158px;height:2px;background:#263a66"></div>
</body></html>
